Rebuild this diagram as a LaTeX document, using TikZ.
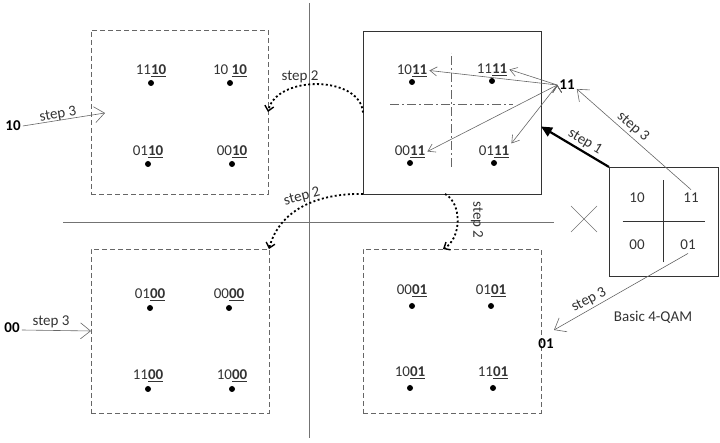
\documentclass[tikz,border=0pt]{standalone}
\usepackage{fontspec}
\setmainfont{Carlito}
\usetikzlibrary{positioning,arrows.meta}
\definecolor{inkgray}{rgb}{0.2,0.2,0.2}
\definecolor{linegray}{rgb}{0.4,0.4,0.4}
\definecolor{axisgray}{rgb}{0.45,0.45,0.45}

\begin{document}
\begin{tikzpicture}[x=1pt, y=1pt, node distance=16pt and 16pt, on grid, font=\fontsize{15}{18}\selectfont, text=inkgray,
	dashbox/.style={draw=linegray, line width=0.8pt, dash pattern=on 5pt off 3pt, inner sep=0pt, outer sep=0pt},
	solidbox/.style={draw=inkgray, line width=0.8pt, inner sep=0pt, outer sep=0pt},
	dot/.style={circle, fill=black, inner sep=0pt, minimum size=6pt},
	bits/.style={inner sep=2pt},
	steplabel/.style={inner sep=1pt},
	bitlabel/.style={font=\fontsize{15}{18}\selectfont\bfseries, text=black, inner sep=2pt},
	thinarrow/.style={draw=linegray, line width=0.6pt, -{Straight Barb[length=7pt,width=9pt]}},
	steparrow/.style={draw=linegray, line width=0.6pt, -{Straight Barb[length=10pt,width=16pt]}},
	movearrow/.style={draw=black, line width=1.8pt, dash pattern=on 2pt off 2.4pt, -{Straight Barb[length=5pt,width=9pt,line width=1.4pt]}}]
	\useasboundingbox (0,0) rectangle (720,443);
	% axes
	\draw [axisgray, line width=0.8pt] (63,221) -- (554,221);
	\draw [axisgray, line width=0.8pt] (309,440) -- (309,5);
	% the four shifted constellations
	\node [dashbox, minimum width=177pt, minimum height=164pt] (TL) at (179.5,331) {};
	\node [solidbox, minimum width=178pt, minimum height=163pt] (TR) at (452,330.5) {};
	\node [dashbox, minimum width=178pt, minimum height=164pt] (BL) at (180,112) {};
	\node [dashbox, minimum width=178pt, minimum height=164pt] (BR) at (452,112) {};
	% points top left
	\node [dot] (D1110) at (151,360) {};
	\node [dot] (D1010) at (230,360) {};
	\node [dot] (D0110) at (148,279) {};
	\node [dot] (D0010) at (232,279) {};
	\node [bits] (L1110) [above=12.5pt of D1110] {11\underline{\textbf{10}}};
	\node [bits] (L1010) [above=12.5pt of D1010] {10 \underline{\textbf{10}}};
	\node [bits] (L0110) [above=12.5pt of D0110] {01\underline{\textbf{10}}};
	\node [bits] (L0010) [above=12.5pt of D0010] {00\underline{\textbf{10}}};
	% points top right
	\node [dot] (D1011) at (412,361) {};
	\node [dot] (D1111) at (492,362) {};
	\node [dot] (D0011) at (410,280) {};
	\node [dot] (D0111) at (494,280) {};
	\node [bits] (L1011) [above=11.5pt of D1011] {10\underline{\textbf{11}}};
	\node [bits] (L1111) [above=11.5pt of D1111] {11\underline{\textbf{11}}};
	\node [bits] (L0011) [above=11.5pt of D0011] {00\underline{\textbf{11}}};
	\node [bits] (L0111) [above=11.5pt of D0111] {01\underline{\textbf{11}}};
	\draw [linegray, line width=0.7pt, dash pattern=on 9pt off 3pt on 2pt off 3pt] (451,276) -- (451,390);
	\draw [linegray, line width=0.7pt, dash pattern=on 9pt off 3pt on 2pt off 3pt] (390,339) -- (513,339);
	% points bottom left
	\node [dot] (D0100) at (150,135) {};
	\node [dot] (D0000) at (229,135) {};
	\node [dot] (D1100) at (148,54) {};
	\node [dot] (D1000) at (232,54) {};
	\node [bits] (L0100) [above=13.5pt of D0100] {01\underline{\textbf{00}}};
	\node [bits] (L0000) [above=13.5pt of D0000] {00\underline{\textbf{00}}};
	\node [bits] (L1100) [above=13.5pt of D1100] {11\underline{\textbf{00}}};
	\node [bits] (L1000) [above=13.5pt of D1000] {10\underline{\textbf{00}}};
	% points bottom right
	\node [dot] (D0001) at (412,137) {};
	\node [dot] (D0101) at (491,137) {};
	\node [dot] (D1001) at (410,55) {};
	\node [dot] (D1101) at (493,55) {};
	\node [bits] (L0001) [above=15.5pt of D0001] {00\underline{\textbf{01}}};
	\node [bits] (L0101) [above=15.5pt of D0101] {01\underline{\textbf{01}}};
	\node [bits] (L1001) [above=15.5pt of D1001] {10\underline{\textbf{01}}};
	\node [bits] (L1101) [above=15.5pt of D1101] {11\underline{\textbf{01}}};
	% basic 4-QAM
	\node [solidbox, minimum width=109pt, minimum height=109pt] (QAM) at (663.5,221.5) {};
	\draw [inkgray, line width=0.8pt] ([yshift=-41pt]QAM.center) -- ([yshift=41pt]QAM.center);
	\draw [inkgray, line width=0.8pt] ([xshift=-41pt]QAM.center) -- ([xshift=41pt]QAM.center);
	\node (Q10) at (637,245) {10};
	\node (Q11) at (691,245) {11};
	\node (Q00) at (637,198) {00};
	\node (Q01) at (688,198) {01};
	\node (QAMNAME) at (653,126) {Basic 4-QAM};
	\draw [axisgray, line width=0.6pt] (571,211) -- (597,237);
	\draw [axisgray, line width=0.6pt] (571,237) -- (597,211);
	% symbols being placed
	\node [bitlabel] (N11) at (567,358) {11};
	\node [bitlabel] (N10) at (13,317) {10};
	\node [bitlabel] (N00) at (12,115) {00};
	\node [bitlabel] (N01) at (546,99) {01};
	\coordinate (E10) at (105,330);
	\coordinate (E01) at (554,113);
	% step 1
	\draw [black, line width=2.2pt, -{Triangle[length=11pt,width=10pt]}] (QAM.north west) -- ([yshift=-14pt]TR.east);
	\node [steplabel, rotate=-31] (S1) at (585,301) {step 1};
	% step 2
	\draw [movearrow] (TR.west) .. controls (360,368) and (276,368) .. (TL.east);
	\draw [movearrow] (TR.south west) .. controls (316,250) and (279,232) .. (BL.north east);
	\draw [movearrow] ([xshift=-7pt]TR.south) .. controls (462,240) and (462,205) .. ([xshift=-9pt]BR.north);
	\node [steplabel] (S2A) at (300,366) {step 2};
	\node [steplabel, rotate=15] (S2B) at (302,246) {step 2};
	\node [steplabel, rotate=-90] (S2C) at (477,223) {step 2};
	% step 3
	\draw [steparrow] (Q11.north) -- ([yshift=-4pt]N11.east);
	\draw [steparrow] (Q01.south) -- (E01);
	\draw [steparrow] (N10.east) -- (E10);
	\draw [steparrow] ([yshift=-2pt]N00.east) -- (BL.west);
	\node [steplabel, rotate=-41] (S3A) at (633,316) {step 3};
	\node [steplabel, rotate=28] (S3B) at (589,143) {step 3};
	\node [steplabel, rotate=10] (S3C) at (58,328) {step 3};
	\node [steplabel] (S3D) at (51,121) {step 3};
	% mapping onto the points of the shifted constellation
	\path [thinarrow] (N11.west) edge (L1011.east);
	\path [thinarrow] (N11.west) edge (L1111.east);
	\path [thinarrow] (N11.west) edge (L0011.east);
	\path [thinarrow] (N11.west) edge (L0111.north east);
\end{tikzpicture}
\end{document}
